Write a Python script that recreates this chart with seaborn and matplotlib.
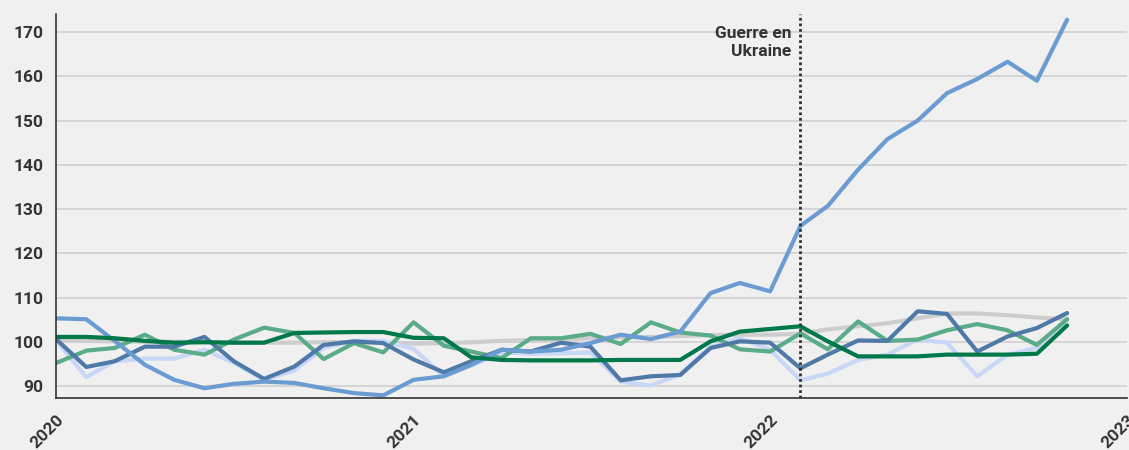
import pandas as pd
import matplotlib.pyplot as plt
import matplotlib.dates as mdates
import seaborn as sns

# Mois : janvier 2020 -> novembre 2022
months = pd.date_range('2020-01-01', periods=35, freq='MS')

gris = [100.3, 100.2, 100.1, 100.0, 100.0, 99.9, 99.8, 99.8, 99.8, 99.9, 99.9, 99.8,
        99.6, 99.7, 99.9, 100.2, 100.4, 100.6, 100.8, 101.0, 101.1, 101.3, 101.5, 101.6,
        101.6, 101.8, 102.8, 103.5, 104.2, 105.3, 106.4, 106.4, 106.0, 105.5, 105.1]
bleu_clair = [105.3, 105.1, 100.2, 94.8, 91.4, 89.5, 90.5, 91.0, 90.7, 89.5, 88.4, 87.9,
              91.4, 92.2, 94.8, 98.2, 97.8, 98.2, 99.7, 101.6, 100.6, 102.3, 111.0, 113.3,
              111.4, 126.2, 130.7, 138.9, 145.8, 150.0, 156.2, 159.4, 163.3, 159.0, 172.8]
bleu_fonce = [100.6, 94.3, 95.6, 98.9, 98.9, 101.1, 95.6, 91.6, 94.4, 99.3, 100.1, 99.7,
              96.0, 93.1, 95.6, 98.2, 97.8, 99.8, 98.9, 91.3, 92.2, 92.5, 98.6, 100.1,
              99.8, 94.0, 97.1, 100.3, 100.2, 106.9, 106.3, 97.8, 101.2, 103.1, 106.5]
vert_moyen = [95.2, 98.0, 98.6, 101.6, 98.2, 97.1, 100.5, 103.2, 102.0, 96.1, 99.7, 97.6,
              104.4, 99.1, 97.8, 96.3, 100.8, 100.8, 101.8, 99.5, 104.4, 102.1, 101.4, 98.3,
              97.8, 101.9, 98.3, 104.6, 100.2, 100.5, 102.6, 104.0, 102.6, 99.3, 105.1]
lavande = [100.3, 92.0, 95.6, 96.2, 96.2, 98.2, 95.2, 91.4, 93.5, 98.6, 100.2, 100.2,
           98.4, 92.2, 94.6, 97.6, 97.3, 97.4, 97.6, 91.0, 90.1, 92.7, 98.9, 100.8,
           98.2, 91.3, 92.8, 95.9, 97.1, 100.5, 99.8, 92.2, 97.1, 98.6, 105.3]
vert_fonce = [101.1, 101.1, 100.8, 100.2, 99.8, 99.9, 99.8, 99.8, 102.0, 102.1, 102.2, 102.2,
              100.9, 100.8, 96.5, 95.9, 95.8, 95.8, 95.8, 95.9, 95.9, 95.9, 100.1, 102.3,
              102.9, 103.5, 100.1, 96.7, 96.7, 96.7, 97.1, 97.1, 97.1, 97.3, 103.7]

series = {
    'gris': gris,
    'lavande': lavande,
    'vert_moyen': vert_moyen,
    'bleu_fonce': bleu_fonce,
    'bleu_clair': bleu_clair,
    'vert_fonce': vert_fonce,
}
palette = {
    'gris': '#cdcdcd',
    'lavande': '#c8d7f7',
    'vert_moyen': '#5aab88',
    'bleu_fonce': '#4f79a7',
    'bleu_clair': '#6a9bd1',
    'vert_fonce': '#00784a',
}

df = pd.concat(
    [pd.DataFrame({'mois': months, 'indice': v, 'serie': k}) for k, v in series.items()],
    ignore_index=True,
)

sns.set_style('white')
plt.rcParams['font.family'] = ['Roboto', 'DejaVu Sans']
bg = '#f0f0f0'

fig = plt.figure(figsize=(11.29, 4.5), dpi=100, facecolor=bg)
ax = fig.add_axes([0.0496, 0.1156, 0.9484, 0.8534])
ax.set_facecolor(bg)

sns.lineplot(data=df, x='mois', y='indice', hue='serie', hue_order=list(series.keys()),
             palette=palette, linewidth=3.0, legend=False, ax=ax)

# Guerre en Ukraine (février 2022)
guerre = pd.Timestamp('2022-02-01')
ax.axvline(guerre, color='#333333', linestyle=(0, (1, 1)), linewidth=2, zorder=5)
ax.text(guerre - pd.Timedelta(days=9), 167.7, 'Guerre en\nUkraine', ha='right', va='center',
        fontsize=12.5, fontweight='bold', color='#333333', linespacing=1.25)

ax.set_xlim(pd.Timestamp('2020-01-01'), pd.Timestamp('2023-01-01'))
ax.set_ylim(87.3, 174.1)
ax.set_yticks(range(90, 171, 10))
ax.xaxis.set_major_locator(mdates.YearLocator())
ax.xaxis.set_major_formatter(mdates.DateFormatter('%Y'))

ax.grid(axis='y', color='#d0d0d0', linewidth=1.2)
ax.set_axisbelow(True)
for side in ['top', 'right']:
    ax.spines[side].set_visible(False)
for side in ['left', 'bottom']:
    ax.spines[side].set_color('#333333')
    ax.spines[side].set_linewidth(1.2)

ax.tick_params(axis='y', length=6, width=1.2, color='#333333', labelsize=12.5,
               labelcolor='#333333', pad=3)
ax.tick_params(axis='x', length=8, width=1.2, color='#333333', labelsize=12.5,
               labelcolor='#333333', pad=2)
for lab in ax.get_yticklabels() + ax.get_xticklabels():
    lab.set_fontweight('bold')
plt.setp(ax.get_xticklabels(), rotation=45, ha='right', rotation_mode='anchor')

ax.set_xlabel('')
ax.set_ylabel('')

fig.savefig('out.png', dpi=100, facecolor=bg)
